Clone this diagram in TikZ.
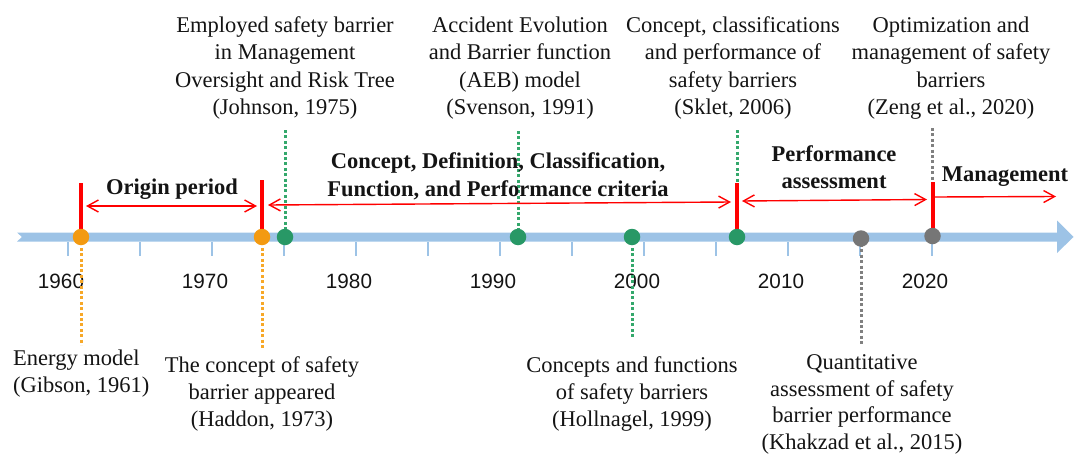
\documentclass[tikz,border=0pt]{standalone}
\usepackage{fontspec}
\setmainfont{Liberation Serif}
\newfontfamily\yearfont{Liberation Sans}
\usetikzlibrary{arrows.meta}
\definecolor{axisblue}{RGB}{157,195,230}
\definecolor{dotorange}{RGB}{243,154,17}
\definecolor{lineorange}{RGB}{247,168,40}
\definecolor{dotgreen}{RGB}{40,152,102}
\definecolor{linegreen}{RGB}{52,168,108}
\definecolor{dotgray}{RGB}{118,118,118}
\definecolor{linegray}{RGB}{128,128,128}
\definecolor{barred}{RGB}{255,0,0}
\definecolor{txtcol}{RGB}{20,20,20}
\begin{document}
\begin{tikzpicture}[x=1pt,y=-1pt,
  txt/.style={align=center, inner sep=0pt, anchor=base, text=txtcol,
    font=\fontsize{22.5}{27.3}\selectfont},
  period/.style={align=center, inner sep=0pt, anchor=base, text=txtcol},
  yearlbl/.style={anchor=base, inner sep=0pt, text=txtcol,
    font=\yearfont\fontsize{20.7}{24}\selectfont},
  evt/.style={circle, inner sep=0pt, minimum size=16.5pt},
  redbar/.style={barred, line width=4pt},
  span/.style={barred, line width=1.4pt,
    {Straight Barb[length=11pt,width=12pt]}-{Straight Barb[length=11pt,width=12pt]}},
  oneway/.style={barred, line width=1.4pt, -{Straight Barb[length=11pt,width=12pt]}},
  dotline/.style={line width=3pt, dash pattern=on 3pt off 2.4pt},
  tick/.style={axisblue, line width=2pt}]
\useasboundingbox (0,0) rectangle (1074,455);

% axis
\fill[axisblue] (17,232.5) -- (1057,232.5) -- (1057,220.5) -- (1073.5,237)
  -- (1057,253) -- (1057,241.5) -- (17,241.5) -- (22,237) -- cycle;
\foreach \k in {0,...,12} \draw[tick] ({68+72*\k},242) -- ++(0,14);
\foreach \yr/\k in {1960/0,1970/1,1980/2,1990/3,2000/4,2010/5,2020/6}
  \node[yearlbl] (y\yr) at ({61+144*\k},288) {\yr};

% event positions
\coordinate (p61) at (81,237);
\coordinate (p73) at (262,237);
\coordinate (p75) at (285,237);
\coordinate (p91) at (518,237);
\coordinate (p99) at (632,237);
\coordinate (p06) at (737,237);
\coordinate (p15) at (861,238.5);
\coordinate (p20) at (932.5,236);

% texts (anchor base = baseline of the last line)
\node[txt] (tJohnson) at (285,114.4) {Employed safety barrier\\in Management\\Oversight and Risk Tree\\(Johnson, 1975)};
\node[txt] (tSvenson) at (520,114.4) {Accident Evolution\\and Barrier function\\(AEB) model\\(Svenson, 1991)};
\node[txt] (tSklet) at (733,114.4) {Concept, classifications\\and performance of\\safety barriers\\(Sklet, 2006)};
\node[txt] (tZeng) at (951,114.4) {Optimization and\\management of safety\\barriers\\(Zeng et al., 2020)};
\node[txt, align=left, anchor=base west] (tGibson) at (13,392.3) {Energy model\\(Gibson, 1961)};
\node[txt] (tHaddon) at (262,426.6) {The concept of safety\\barrier appeared\\(Haddon, 1973)};
\node[txt] (tHollnagel) at (632,426.6) {Concepts and functions\\of safety barriers\\(Hollnagel, 1999)};
\node[txt, font=\fontsize{22.5}{26.6}\selectfont] (tKhakzad) at (862,449.5) {Quantitative\\assessment of safety\\barrier performance\\(Khakzad et al., 2015)};

% dotted connector ends
\coordinate (cJ) at (285,130);
\coordinate (cS) at (518,131);
\coordinate (cK) at (737,130);
\coordinate (cZ) at (932.5,128);
\coordinate (c61) at (81,345);
\coordinate (c73) at (262,348);
\coordinate (c99) at (632,338);
\coordinate (c15) at (861,345);

\draw[dotline, linegreen] (cJ) -- (p75);
\draw[dotline, linegreen] (cS) -- (p91);
\draw[dotline, linegreen] (cK) -- (p06);
\draw[dotline, linegray] (cZ) -- (p20);
\draw[dotline, lineorange] (p61) -- (c61);
\draw[dotline, lineorange] (p73) -- (c73);
\draw[dotline, linegreen] (p99) -- (c99);
\draw[dotline, linegray] (p15) -- (c15);

% red period bars
\coordinate (b61) at (81,183);
\coordinate (b73) at (262,180);
\coordinate (b06) at (737,183);
\coordinate (b20) at (932.5,182);
\draw[redbar] (p61) -- (b61);
\draw[redbar] (p73) -- (b73);
\draw[redbar] (p06) -- (b06);
\draw[redbar] (p20) -- (b20);

% period arrows
\coordinate (a1l) at (86,206);
\coordinate (a1r) at (257,206);
\coordinate (a2l) at (268,205);
\coordinate (a2r) at (731,202);
\coordinate (a3l) at (742,201);
\coordinate (a3r) at (927,199.5);
\coordinate (a4l) at (934.5,197);
\coordinate (a4r) at (1056,196.5);
\draw[span] (a1l) -- (a1r);
\draw[span] (a2l) -- (a2r);
\draw[span] (a3l) -- (a3r);
\draw[oneway] (a4l) -- (a4r);

% period labels
\node[period, font=\fontsize{22.5}{27}\selectfont\bfseries] (lOrigin) at (172,194.5) {Origin period};
\node[period, font=\fontsize{22.5}{28.5}\selectfont\bfseries] (lConcept) at (498,196.5) {Concept, Definition, Classification,\\Function, and Performance criteria};
\node[period, font=\fontsize{22.5}{26.8}\selectfont\bfseries] (lPerf) at (834,188.3) {Performance\\assessment};
\node[period, font=\fontsize{22.5}{27}\selectfont\bfseries] (lMgmt) at (1005,181.5) {Management};

% event dots
\node[evt, fill=dotorange] (e61) at (p61) {};
\node[evt, fill=dotorange] (e73) at (p73) {};
\node[evt, fill=dotgreen] (e75) at (p75) {};
\node[evt, fill=dotgreen] (e91) at (p91) {};
\node[evt, fill=dotgreen] (e99) at (p99) {};
\node[evt, fill=dotgreen] (e06) at (p06) {};
\node[evt, fill=dotgray] (e15) at (p15) {};
\node[evt, fill=dotgray] (e20) at (p20) {};
\end{tikzpicture}
\end{document}
